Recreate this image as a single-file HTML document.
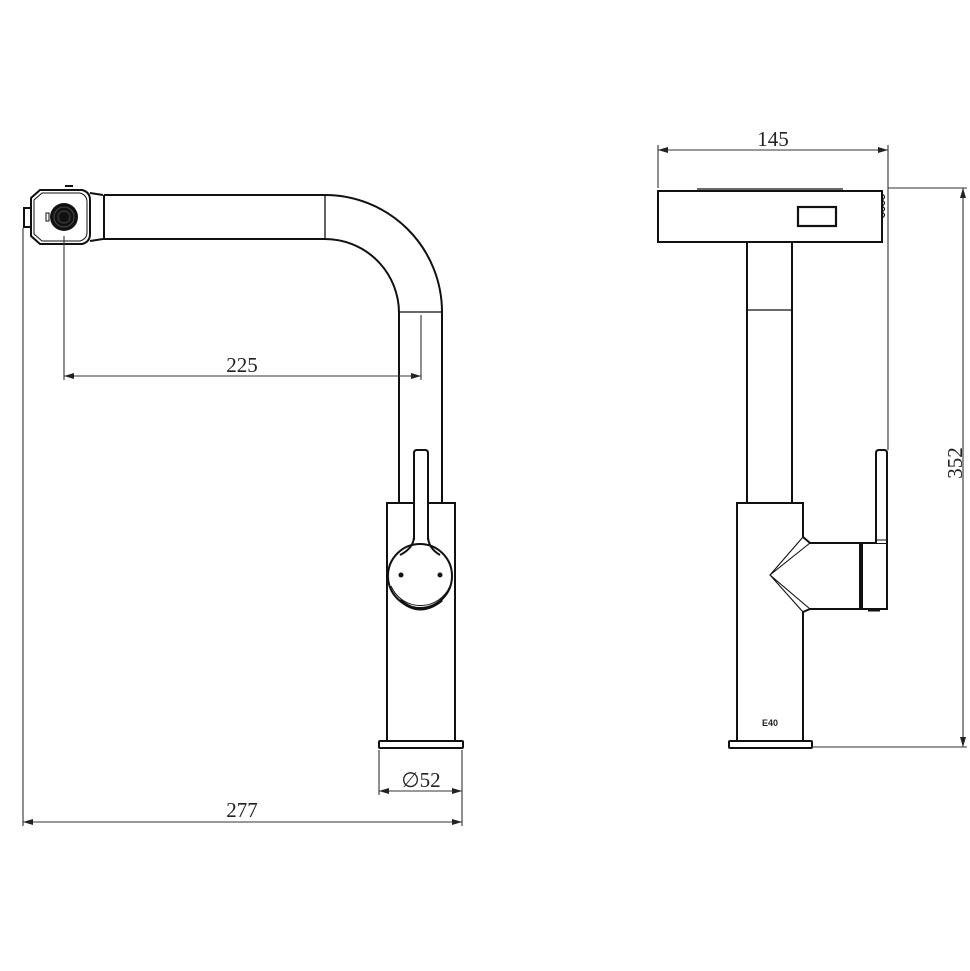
<!DOCTYPE html>
<html><head><meta charset="utf-8"><style>html,body{margin:0;padding:0;background:#fff}svg{display:block}</style></head>
<body>
<svg width="970" height="971" viewBox="0 0 970 971" xmlns="http://www.w3.org/2000/svg">
<defs>
<marker id="a" viewBox="0 0 10 6" refX="10" refY="3" markerWidth="10" markerHeight="6" orient="auto-start-reverse" markerUnits="userSpaceOnUse"><path d="M0,0L10,3L0,6z" fill="#222"/></marker>
</defs>
<g fill="none" stroke="#111" stroke-width="2">
<!-- LEFT VIEW -->
<path d="M40,190 L82,190 Q90,192 90,200 L90,234 Q90,242 82,244 L40,244 L31,236 L31,198 Z"/>
<path d="M42,193 L80,193 Q87,195 87,202 L87,232 Q87,239 80,241 L42,241 L34,234 L34,200 Z" stroke-width="1"/>
<rect x="24" y="208" width="7" height="19"/>
<path d="M90,193 L103,195 M90,241 L103,239"/>
<rect x="46" y="213" width="3" height="8" stroke-width="1"/>
<line x1="65" y1="186" x2="73" y2="186" stroke-width="2"/>
<!-- spout -->
<path d="M104,195 L325,195 A117,117 0 0 1 442,312 L442,503"/>
<path d="M104,195 L104,239 L325,239 A74,74 0 0 1 399,313 L399,503"/>
<line x1="325" y1="195" x2="325" y2="239" stroke-width="1.3"/>
<line x1="399" y1="312" x2="442" y2="312" stroke-width="1.3"/>
<!-- body -->
<rect x="387" y="503" width="68" height="238"/>
<rect x="379" y="741" width="84" height="7" rx="1"/>
<circle cx="420" cy="576" r="32"/>
<path d="M391,586 A32,32 0 0 0 450,586" stroke-width="1"/>
<path d="M400,600 Q420,618 442,600" stroke-width="3"/>
<path d="M414,540 L414,453 Q414,450 417,450 L425,450 Q428,450 428,453 L428,540" fill="#fff"/>
<path d="M400,555 Q414,548 414,536 M428,536 Q428,548 440,555"/>
</g>
<g fill="#111">
<circle cx="64" cy="217" r="14"/>
<circle cx="401" cy="575" r="2.5"/>
<circle cx="440" cy="575" r="2.5"/>
</g>
<g stroke="#555" stroke-width="0.8" fill="none">
<circle cx="64" cy="217" r="10"/>
<circle cx="64" cy="217" r="6"/>
</g>
<!-- dims left -->
<g stroke="#333" stroke-width="1.1" fill="none">
<line x1="64" y1="236" x2="64" y2="380"/>
<line x1="421" y1="315" x2="421" y2="380"/>
<line x1="64" y1="376" x2="421" y2="376" marker-start="url(#a)" marker-end="url(#a)"/>
<line x1="23" y1="228" x2="23" y2="826"/>
<line x1="462" y1="750" x2="462" y2="826"/>
<line x1="379" y1="750" x2="379" y2="795"/>
<line x1="379" y1="791" x2="462" y2="791" marker-start="url(#a)" marker-end="url(#a)"/>
<line x1="23" y1="822" x2="462" y2="822" marker-start="url(#a)" marker-end="url(#a)"/>
</g>
<g font-family="Liberation Serif, serif" font-size="21" fill="#222" text-anchor="middle">
<text x="242" y="372">225</text>
<text x="421" y="787">∅52</text>
<text x="242" y="817">277</text>
<text x="773" y="146">145</text>
<text transform="translate(962,463) rotate(-90)">352</text>
</g>
<!-- RIGHT VIEW -->
<g fill="none" stroke="#111" stroke-width="2">
<rect x="658" y="191" width="224" height="51"/>
<line x1="697" y1="189" x2="843" y2="189" stroke-width="1.3"/>
<rect x="798" y="207" width="38" height="19" stroke-width="2.2"/>
<path d="M882,194 q5,3 0,6 q5,3 0,6 q5,3 0,6 q5,3 0,6" stroke-width="1.2"/>
<path d="M747,242 L747,503 M792,242 L792,503"/>
<line x1="747" y1="310" x2="792" y2="310" stroke-width="1.3"/>
<path d="M803,537 L803,503 L737,503 L737,741 L803,741 L803,612"/>
<rect x="729" y="741" width="83" height="7" rx="1"/>
<path d="M803,537 L810,543 L860,543 L860,609 L810,609 L803,612"/>
<path d="M803,537 L770,575 L803,612 M810,543 L770,575 L810,609" stroke-width="1.1"/>
<rect x="862" y="543" width="25" height="66"/>
<path d="M876,543 L876,453 Q876,450 879,450 L884,450 Q887,450 887,453 L887,543" fill="#fff"/>
<line x1="876" y1="540" x2="887" y2="540" stroke-width="1"/>
<path d="M868,610 L880,610" stroke-width="3"/>
</g>
<text x="770" y="726" font-family="Liberation Sans, sans-serif" font-size="9" font-weight="bold" fill="#222" text-anchor="middle">E40</text>
<g stroke="#333" stroke-width="1.1" fill="none">
<line x1="658" y1="145" x2="658" y2="188"/>
<line x1="888" y1="145" x2="888" y2="450"/>
<line x1="658" y1="150" x2="888" y2="150" marker-start="url(#a)" marker-end="url(#a)"/>
<line x1="888" y1="188" x2="967" y2="188"/>
<line x1="812" y1="747" x2="967" y2="747"/>
<line x1="963" y1="188" x2="963" y2="747" marker-start="url(#a)" marker-end="url(#a)"/>
</g>
</svg>
</body></html>
